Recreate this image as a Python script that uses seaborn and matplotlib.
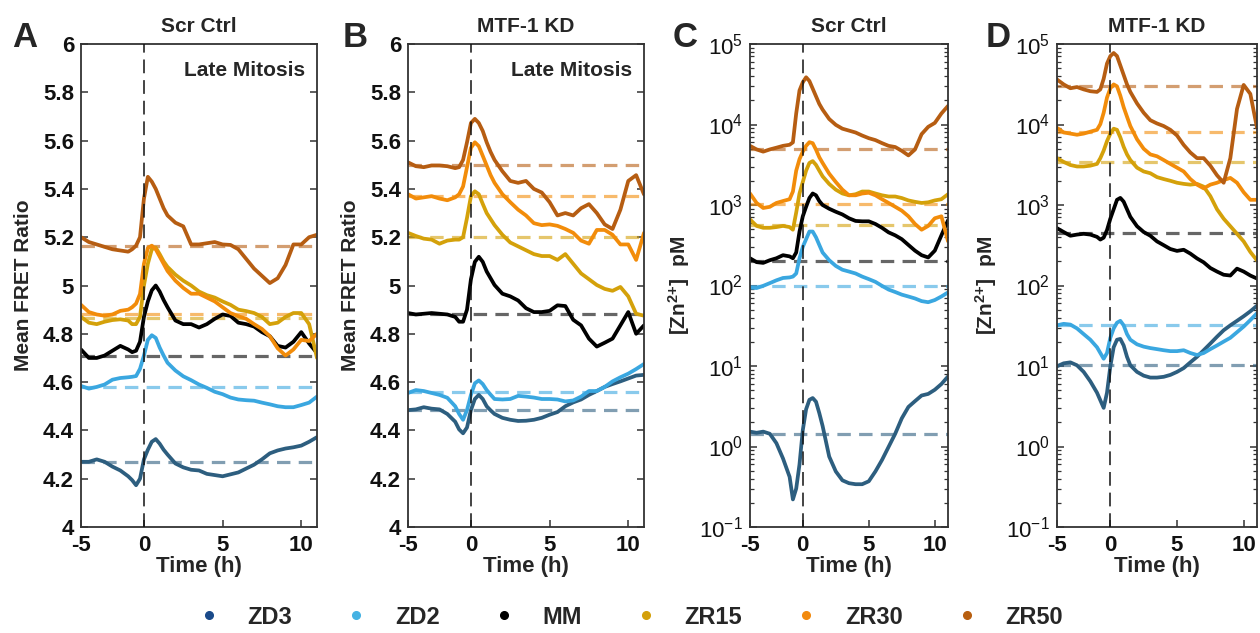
import numpy as np
import pandas as pd
import matplotlib
matplotlib.use("Agg")
import matplotlib.pyplot as plt
from matplotlib.lines import Line2D
from matplotlib.ticker import FuncFormatter, LogLocator, NullFormatter, FixedLocator
import seaborn as sns

# ---------------- data ----------------
time_h = [-4, -3.5, -3, -2.5, -2, -1.5, -1, -0.75, -0.5, -0.25, 0, 0.25, 0.5, 0.75,
          1, 1.25, 1.5, 2, 2.5, 3, 3.5, 4, 4.5, 5, 5.5, 6, 6.5, 7, 7.5, 8, 8.5, 9,
          9.5, 10, 10.5, 11]
series_names = ["ZD3", "ZD2", "MM", "ZR15", "ZR30", "ZR50"]

# Panel A: Scr Ctrl, mean FRET ratio
a_zd3 = [4.27, 4.27, 4.28, 4.27, 4.25, 4.234, 4.21, 4.194, 4.173, 4.20, 4.28, 4.32, 4.353, 4.364,
         4.345, 4.32, 4.30, 4.263, 4.247, 4.237, 4.234, 4.22, 4.215, 4.21, 4.218, 4.226, 4.242,
         4.258, 4.28, 4.305, 4.317, 4.325, 4.33, 4.337, 4.353, 4.372]
a_zd2 = [4.584, 4.573, 4.58, 4.59, 4.61, 4.617, 4.62, 4.622, 4.625, 4.655, 4.71, 4.775, 4.794, 4.783,
         4.743, 4.71, 4.68, 4.648, 4.624, 4.608, 4.59, 4.576, 4.56, 4.55, 4.536, 4.528, 4.525,
         4.523, 4.515, 4.508, 4.50, 4.496, 4.496, 4.505, 4.515, 4.54]
a_mm = [4.735, 4.70, 4.70, 4.71, 4.73, 4.75, 4.735, 4.724, 4.73, 4.767, 4.87, 4.934, 4.98, 5.0,
        4.975, 4.94, 4.91, 4.855, 4.84, 4.84, 4.826, 4.84, 4.862, 4.88, 4.874, 4.846, 4.84,
        4.83, 4.807, 4.79, 4.75, 4.743, 4.767, 4.807, 4.76, 4.72]
a_zr15 = [4.87, 4.846, 4.84, 4.85, 4.857, 4.86, 4.855, 4.84, 4.84, 4.87, 5.0, 5.09, 5.15, 5.157,
          5.13, 5.10, 5.077, 5.045, 5.02, 5.0, 4.975, 4.96, 4.95, 4.934, 4.92, 4.90, 4.894,
          4.886, 4.87, 4.84, 4.846, 4.87, 4.886, 4.886, 4.84, 4.70]
a_zr30 = [4.92, 4.89, 4.88, 4.875, 4.88, 4.895, 4.90, 4.91, 4.925, 4.965, 5.09, 5.155, 5.165, 5.15,
          5.12, 5.09, 5.06, 5.02, 4.99, 4.966, 4.966, 4.95, 4.934, 4.91, 4.886, 4.873, 4.862,
          4.84, 4.82, 4.79, 4.74, 4.71, 4.735, 4.775, 4.77, 4.80]
a_zr50 = [5.20, 5.18, 5.17, 5.16, 5.15, 5.145, 5.14, 5.15, 5.165, 5.20, 5.36, 5.45, 5.43, 5.40,
          5.36, 5.32, 5.29, 5.26, 5.245, 5.17, 5.17, 5.175, 5.18, 5.17, 5.168, 5.15, 5.11,
          5.07, 5.04, 5.01, 5.03, 5.085, 5.17, 5.17, 5.20, 5.21]
a_base = [4.27, 4.58, 4.71, 4.865, 4.88, 5.165]

# Panel B: MTF-1 KD, mean FRET ratio
b_zd3 = [4.484, 4.487, 4.496, 4.49, 4.487, 4.468, 4.436, 4.404, 4.388, 4.412, 4.484, 4.53, 4.547, 4.53,
         4.50, 4.483, 4.468, 4.452, 4.444, 4.439, 4.44, 4.444, 4.452, 4.465, 4.476, 4.50, 4.516,
         4.528, 4.547, 4.563, 4.58, 4.592, 4.603, 4.615, 4.627, 4.63]
b_zd2 = [4.555, 4.567, 4.563, 4.555, 4.547, 4.535, 4.50, 4.468, 4.444, 4.484, 4.547, 4.595, 4.607, 4.592,
         4.567, 4.548, 4.53, 4.528, 4.53, 4.543, 4.54, 4.536, 4.53, 4.53, 4.528, 4.52, 4.524,
         4.54, 4.563, 4.563, 4.58, 4.603, 4.62, 4.635, 4.654, 4.675]
b_mm = [4.886, 4.88, 4.883, 4.886, 4.883, 4.88, 4.87, 4.85, 4.85, 4.90, 5.026, 5.098, 5.119, 5.098,
        5.058, 5.03, 5.002, 4.966, 4.955, 4.938, 4.906, 4.89, 4.89, 4.895, 4.918, 4.915, 4.858,
        4.835, 4.78, 4.747, 4.763, 4.78, 4.835, 4.89, 4.80, 4.835]
b_zr15 = [5.218, 5.205, 5.194, 5.19, 5.173, 5.186, 5.19, 5.19, 5.20, 5.28, 5.37, 5.39, 5.378, 5.338,
          5.30, 5.275, 5.25, 5.21, 5.178, 5.162, 5.146, 5.13, 5.122, 5.122, 5.106, 5.13, 5.09,
          5.05, 5.026, 5.002, 4.986, 4.978, 4.994, 4.955, 4.883, 4.875]
b_zr30 = [5.378, 5.36, 5.365, 5.37, 5.36, 5.353, 5.365, 5.378, 5.41, 5.49, 5.57, 5.593, 5.577, 5.537,
          5.497, 5.457, 5.425, 5.378, 5.345, 5.314, 5.29, 5.258, 5.25, 5.253, 5.247, 5.234, 5.218,
          5.186, 5.173, 5.23, 5.23, 5.21, 5.17, 5.17, 5.106, 5.218]
b_zr50 = [5.51, 5.494, 5.49, 5.497, 5.497, 5.494, 5.486, 5.49, 5.52, 5.593, 5.673, 5.69, 5.673, 5.64,
          5.593, 5.553, 5.52, 5.473, 5.433, 5.425, 5.433, 5.40, 5.385, 5.345, 5.29, 5.30, 5.29,
          5.32, 5.337, 5.30, 5.253, 5.234, 5.314, 5.433, 5.457, 5.377]
b_base = [4.485, 4.56, 4.88, 5.20, 5.37, 5.50]

# Panel C: Scr Ctrl, [Zn2+] in pM
c_zd3 = [1.53, 1.48, 1.53, 1.44, 1.10, 0.71, 0.42, 0.22, 0.30, 0.60, 1.6, 2.9, 3.8, 4.0,
         3.6, 2.6, 1.8, 0.75, 0.49, 0.38, 0.35, 0.34, 0.34, 0.37, 0.49, 0.68, 0.99,
         1.44, 2.24, 3.1, 3.66, 4.3, 4.5, 5.07, 5.97, 7.4]
c_zd2 = [94, 93, 99, 107, 116, 124, 126, 129, 141, 218, 302, 376, 468, 468,
         397, 319, 257, 206, 175, 157, 149, 141, 129, 120, 111, 99, 89,
         83, 77, 73, 69, 64, 62, 66, 73, 82]
c_mm = [218, 195, 191, 206, 218, 238, 230, 218, 257, 468, 724, 950, 1220, 1390,
        1320, 1120, 1000, 898, 824, 763, 684, 634, 627, 627, 581, 521, 457,
        420, 376, 319, 271, 238, 223, 271, 420, 645]
c_zr15 = [662, 550, 521, 521, 532, 550, 532, 493, 806, 1390, 1930, 2670, 3330, 3510,
          3150, 2670, 2270, 1825, 1550, 1390, 1320, 1360, 1470, 1470, 1390, 1320, 1275,
          1275, 1220, 1140, 1095, 1060, 1080, 1140, 1180, 1360]
c_zr30 = [1390, 1060, 918, 949, 1060, 1120, 1180, 1470, 2670, 3710, 4610, 5430, 6030, 5860,
          4870, 3920, 3330, 2450, 1930, 1550, 1320, 1320, 1390, 1420, 1320, 1180, 1060,
          950, 850, 724, 581, 493, 550, 684, 724, 355]
c_zr50 = [5430, 4900, 4600, 4900, 5150, 5430, 5600, 6000, 13700, 26500, 33500, 38600, 34700, 27900,
          22400, 18000, 15300, 11700, 9900, 8870, 8400, 7950, 7290, 6760, 6400, 5870, 5430,
          5250, 4710, 4130, 4900, 7590, 9350, 10460, 13700, 17000]
c_base = [1.45, 100, 200, 570, 1020, 5000]

# Panel D: MTF-1 KD, [Zn2+] in pM
d_zd3 = [9.9, 10.8, 11.1, 10.2, 8.45, 6.45, 4.66, 3.75, 3.02, 4.66, 9.9, 17.1, 21.2, 21.7,
         18, 13, 10.2, 8.45, 7.59, 7.18, 7.18, 7.34, 7.75, 8.45, 9.42, 11.1, 13.0,
         15.7, 19.0, 23.1, 27.8, 32, 36.4, 41.5, 47.8, 56.1]
d_zd2 = [32, 33.4, 32.7, 29.3, 24.9, 21.2, 17.1, 14.5, 12.3, 14.5, 22.4, 29.3, 34.5, 36.4,
         32, 24.9, 21.2, 18.6, 17.4, 16.7, 16.2, 15.7, 15.3, 15.3, 15.7, 14.5, 13.7,
         14.5, 16.2, 18.0, 20.1, 22.4, 26.3, 30.9, 37.2, 45.2]
d_mm = [515, 462, 415, 429, 439, 429, 402, 372, 393, 488, 676, 885, 1160, 1225,
        1100, 885, 713, 545, 462, 415, 353, 317, 284, 269, 278, 249, 217,
        194, 165, 149, 136, 133, 162, 149, 133, 122]
d_zr15 = [3820, 3430, 3140, 3010, 3010, 3080, 3240, 3820, 4740, 6210, 7710, 8870, 8590, 6920,
          5280, 4250, 3620, 2910, 2610, 2480, 2220, 2100, 2000, 1890, 1830, 1790, 1830,
          1690, 1290, 885, 676, 545, 439, 353, 261, 205]
d_zr30 = [9080, 7970, 7710, 7460, 7710, 8140, 8590, 10100, 14000, 21600, 28200, 31500, 29800, 22800,
          16400, 12500, 9570, 6560, 5000, 4250, 4030, 3620, 3240, 2910, 2610, 2100, 1790,
          1610, 1790, 1890, 2040, 2170, 1890, 1440, 1160, 1160]
d_zr50 = [36200, 31500, 28200, 29200, 27300, 25900, 25400, 27300, 37000, 57200, 70800, 77300, 70800, 54100,
          41300, 31500, 25400, 18300, 14000, 11300, 10300, 9570, 8590, 7300, 5580, 4490, 3820,
          3820, 3080, 2340, 1890, 3820, 15600, 31000, 24000, 9100]
d_base = [10.2, 32, 448, 3430, 7960, 30500]

panel_letters = ["A", "B", "C", "D"]
panel_titles = ["Scr Ctrl", "MTF-1 KD", "Scr Ctrl", "MTF-1 KD"]
xtick_pos = [-4, 0, 5, 10]
xtick_lab = ["-5", "0", "5", "10"]

# ---------------- style ----------------
curve_colors = {"ZD3": "#2d5e7f", "ZD2": "#3aa7e0", "MM": "#000000",
                "ZR15": "#d4a10a", "ZR30": "#f28c0a", "ZR50": "#b65d12"}
legend_colors = ["#1a4a8a", "#45b2e3", "#000000", "#d4a00a", "#f28a0f", "#b85f10"]

sns.set_style("ticks")
plt.rcParams["font.family"] = ["Liberation Sans", "DejaVu Sans"]
plt.rcParams["mathtext.fontset"] = "custom"
plt.rcParams["mathtext.rm"] = "Liberation Sans"
plt.rcParams["mathtext.bf"] = "Liberation Sans:bold"
plt.rcParams["mathtext.default"] = "regular"

W, H = 1260, 633
fig = plt.figure(figsize=(W / 100, H / 100), dpi=100)

ax_px = [(81, 317), (408, 644), (750, 948), (1057, 1257)]
top_px, bot_px = 44, 527
axes = []
for (l, r) in ax_px:
    axes.append(fig.add_axes([l / W, 1 - bot_px / H, (r - l) / W, (bot_px - top_px) / H]))

panels = [
    [a_zd3, a_zd2, a_mm, a_zr15, a_zr30, a_zr50],
    [b_zd3, b_zd2, b_mm, b_zr15, b_zr30, b_zr50],
    [c_zd3, c_zd2, c_mm, c_zr15, c_zr30, c_zr50],
    [d_zd3, d_zd2, d_mm, d_zr15, d_zr30, d_zr50],
]
bases = [a_base, b_base, c_base, d_base]

for i, ax in enumerate(axes):
    rows = []
    for name, vals in zip(series_names, panels[i]):
        for t, v in zip(time_h, vals):
            rows.append({"Time": t, "value": v, "series": name})
    df = pd.DataFrame(rows)
    logp = i >= 2
    # baselines
    for name, b in zip(series_names, bases[i]):
        ax.axhline(b, color=curve_colors[name], alpha=0.6, lw=2.3,
                   dashes=(4.2, 2.6), zorder=1)
    sns.lineplot(data=df, x="Time", y="value", hue="series", hue_order=series_names,
                 palette=curve_colors, ax=ax, linewidth=2.7, legend=False,
                 estimator=None, sort=False, zorder=2)
    ax.axvline(0, color="#111111", lw=1.1, dashes=(9, 4.5), zorder=3)

    ax.set_xlim(-4, 11)
    ax.xaxis.set_major_locator(FixedLocator(xtick_pos))
    ax.set_xticklabels(xtick_lab)
    ax.set_xlabel("Time (h)", fontsize=16, fontweight="bold", labelpad=0)

    if not logp:
        ax.set_ylim(4, 6)
        ax.set_yticks([4, 4.2, 4.4, 4.6, 4.8, 5, 5.2, 5.4, 5.6, 5.8, 6])
        ax.yaxis.set_major_formatter(FuncFormatter(lambda v, p: f"{v:g}"))
        ax.set_ylabel("Mean FRET Ratio", fontsize=15, fontweight="bold", labelpad=7)
        for lab in ax.get_yticklabels():
            lab.set_fontweight("bold")
            lab.set_fontsize(16)
        ax.text(0.95, 0.965, "Late Mitosis", transform=ax.transAxes, ha="right", va="top",
                fontsize=15, fontweight="bold")
    else:
        ax.set_yscale("log")
        ax.set_ylim(0.1, 1e5)
        ax.yaxis.set_major_locator(LogLocator(base=10, numticks=10))
        ax.yaxis.set_minor_locator(LogLocator(base=10, subs=np.arange(2, 10), numticks=20))
        ax.yaxis.set_minor_formatter(NullFormatter())
        ax.set_ylabel("[Zn$^{2{+}}$]  pM", fontsize=15, fontweight="bold", labelpad=5)
        for lab in ax.get_yticklabels():
            lab.set_fontweight("normal")
            lab.set_fontsize(16)
    for lab in ax.get_xticklabels():
        lab.set_fontweight("bold")
        lab.set_fontsize(16)

    ax.tick_params(axis="both", which="major", direction="in", length=5, width=1.1,
                   right=True, top=False, colors="#333333", labelcolor="#111111")
    ax.tick_params(axis="x", which="major", pad=6)
    ax.tick_params(axis="y", which="major", pad=5)
    ax.tick_params(axis="y", which="minor", direction="in", length=3, width=0.9,
                   right=True, left=True, colors="#333333")
    for sp in ax.spines.values():
        sp.set_visible(True)
        sp.set_color("#333333")
        sp.set_linewidth(1.3)

    ax.set_title(panel_titles[i], fontsize=15, fontweight="bold", pad=9)

letter_x = [12, 343, 673, 986]
for lx, letter in zip(letter_x, panel_letters):
    fig.text(lx / W, 1 - 47 / H, letter, fontsize=25, fontweight="bold", va="baseline")

handles = [Line2D([], [], marker="o", ls="none", color=c, markersize=5.5) for c in legend_colors]
fig.legend(handles, series_names, ncol=6, loc="center", bbox_to_anchor=(0.5, 1 - 617 / H),
           frameon=False, prop={"weight": "bold", "size": 17}, handlelength=1.0,
           handletextpad=1.15, columnspacing=2.2, borderpad=0)

fig.savefig("out.png", dpi=100)
